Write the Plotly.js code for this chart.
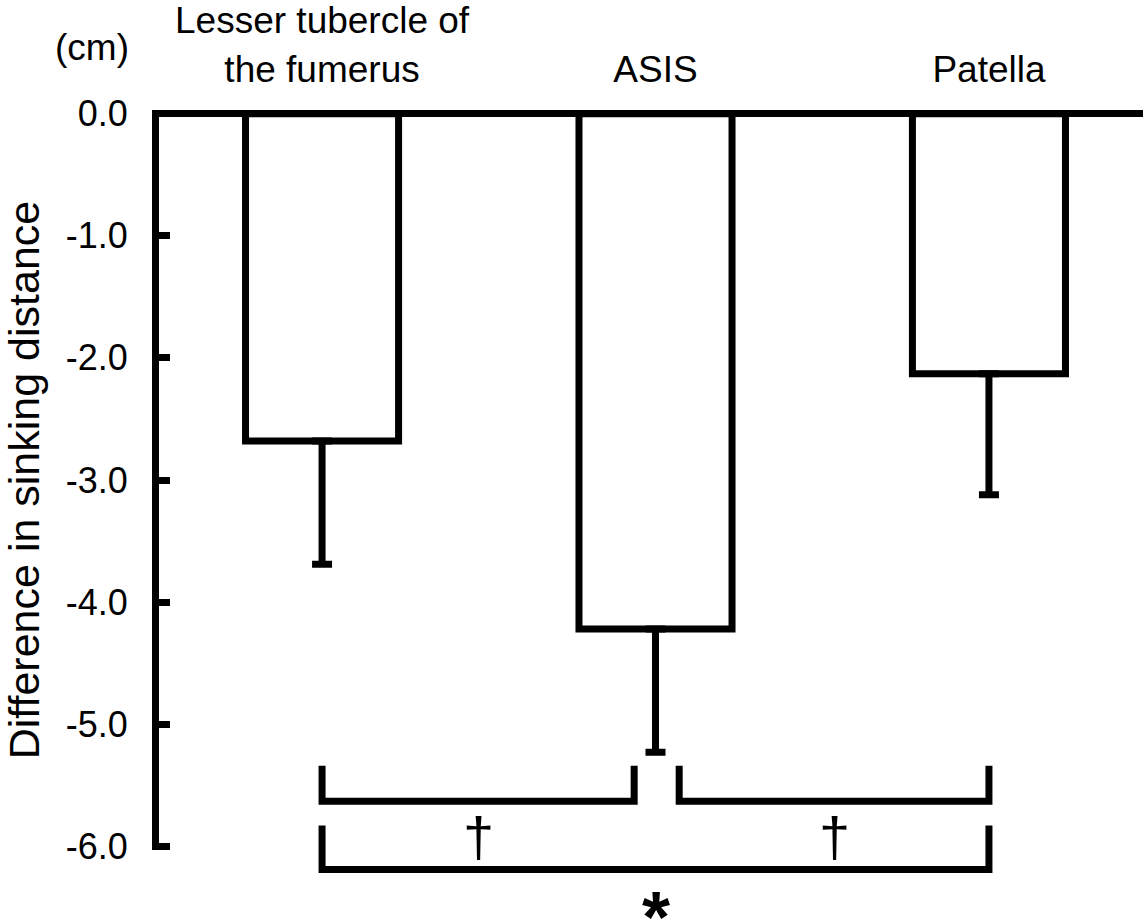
<!DOCTYPE html>
<html><head><meta charset="utf-8">
<script src="https://cdn.plot.ly/plotly-3.0.1.min.js"></script>
<style>html,body{margin:0;padding:0;background:#fff}</style>
</head><body><div id="chart" style="width:1143px;height:924px"></div>
<script>
// ---- data ----
const categories = ["Lesser tubercle of<br>the fumerus", "ASIS", "Patella"];
const meanValues = [-2.68, -4.22, -2.13];
const sdValues = [1.01, 1.01, 0.99];
const yTickValues = [0, -1, -2, -3, -4, -5, -6];
const yTickLabels = ["0.0", "-1.0", "-2.0", "-3.0", "-4.0", "-5.0", "-6.0"];
const compFrom = [0, 1, 0];
const compTo = [1, 2, 2];
const compLabels = ["\u2020", "\u2020", "*"];
const compLevel = [1, 1, 2];

// ---- layout helpers ----
const FONT = "Liberation Sans, Arial, Helvetica, sans-serif";
const xPos = categories.map((c, i) => i);
const yRange = [-6.03, 0.03];
const toPaper = v => (v - yRange[0]) / (yRange[1] - yRange[0]);
const levelTop = {1: -5.34, 2: -5.83};
const levelBot = {1: -5.63, 2: -6.19};
const labelY = {1: -5.92, 2: -6.58};

const shapes = [];
const annotations = [];
for (let k = 0; k < compFrom.length; k++) {
  const lv = compLevel[k];
  let x0 = compFrom[k], x1 = compTo[k];
  if (lv === 1) { if (x0 === 1) x0 += 0.071; if (x1 === 1) x1 -= 0.064; }
  const yt = toPaper(levelTop[lv]), yb = toPaper(levelBot[lv]);
  shapes.push({
    type: 'path', xref: 'x', yref: 'paper',
    path: `M ${x0},${yt} L ${x0},${yb} L ${x1},${yb} L ${x1},${yt}`,
    line: {color: 'black', width: 7}
  });
  const isStar = compLabels[k] === '*';
  annotations.push({
    xref: 'x', yref: 'paper', x: (x0 + x1) / 2, y: toPaper(labelY[lv]),
    text: isStar ? '<b>*</b>' : compLabels[k], showarrow: false,
    font: {family: FONT, size: isStar ? 72 : 56, color: 'black'},
    xanchor: 'center', yanchor: 'middle'
  });
}
annotations.push({
  xref: 'paper', yref: 'paper', x: (92 - 159) / 984, y: 1 + (110 - 48) / 740,
  text: '(cm)', showarrow: false, xanchor: 'center', yanchor: 'middle',
  font: {family: FONT, size: 37, color: 'black'}
});

const trace = {
  type: 'bar', x: xPos, y: meanValues, width: 0.459,
  marker: {color: 'white', line: {color: 'black', width: 7}},
  error_y: {type: 'data', symmetric: false, array: meanValues.map(() => 0),
            arrayminus: sdValues, color: 'black', thickness: 7, width: 10},
  hoverinfo: 'skip'
};

const layout = {
  width: 1143, height: 924,
  margin: {l: 159, r: 0, t: 110, b: 74, pad: 0},
  paper_bgcolor: 'white', plot_bgcolor: 'white',
  showlegend: false,
  font: {family: FONT, color: 'black'},
  xaxis: {
    range: [-0.489, 2.462], side: 'top', tickvals: xPos, ticktext: categories,
    ticks: '', showline: false, showgrid: false, zeroline: false,
    tickfont: {family: FONT, size: 37, color: 'black'}, ticklabelstandoff: 20,
    fixedrange: true
  },
  yaxis: {
    range: yRange, tickvals: yTickValues, ticktext: yTickLabels,
    ticks: 'inside', ticklen: 11, tickwidth: 7, tickcolor: 'black',
    showline: true, linewidth: 7, linecolor: 'black',
    zeroline: true, zerolinewidth: 7, zerolinecolor: 'black',
    showgrid: false,
    tickfont: {family: FONT, size: 36, color: 'black'}, ticklabelstandoff: 17,
    title: {text: 'Difference in sinking distance', font: {family: FONT, size: 43, color: 'black'}, standoff: 15},
    fixedrange: true
  },
  shapes: shapes,
  annotations: annotations
};

Plotly.newPlot('chart', [trace], layout, {displayModeBar: false, staticPlot: true});
</script>
</body></html>
